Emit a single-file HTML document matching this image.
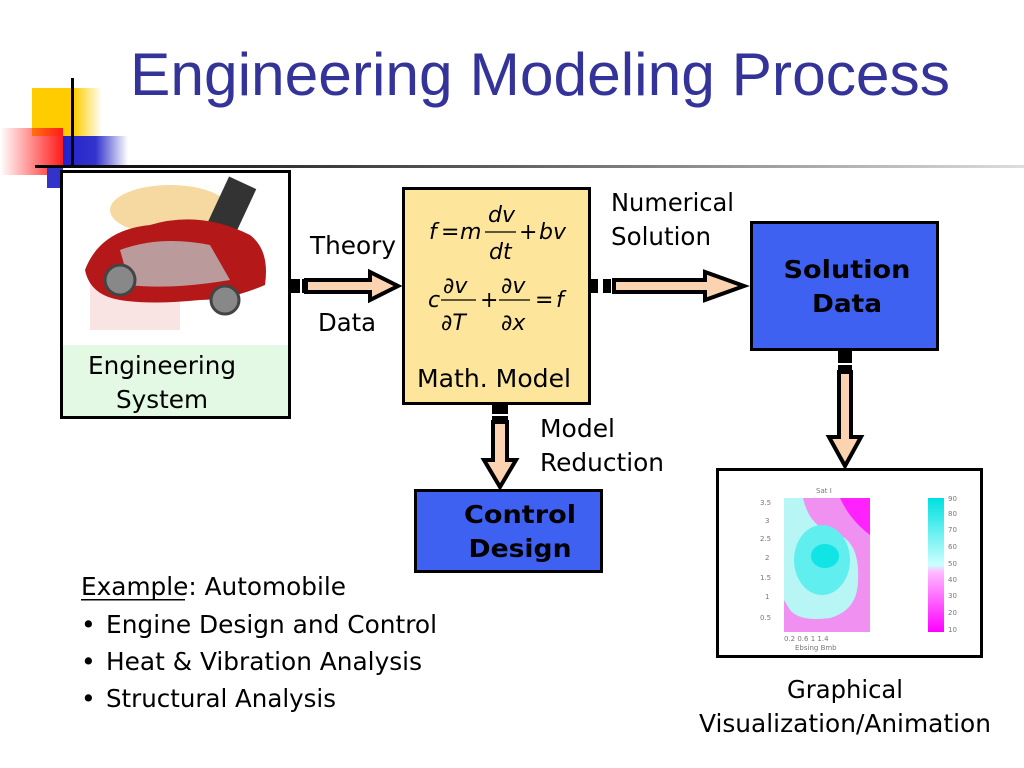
<!DOCTYPE html>
<html><head><meta charset="utf-8"><style>
html,body{margin:0;padding:0;background:#fff;}
svg{display:block;}
text{font-family:"DejaVu Sans","Liberation Sans",sans-serif;}
</style></head><body>
<svg width="1024" height="768" viewBox="0 0 1024 768" xmlns="http://www.w3.org/2000/svg">
<defs>
<linearGradient id="gy" x1="0" x2="1"><stop offset="0" stop-color="#ffcc00"/><stop offset="0.6" stop-color="#ffcc00"/><stop offset="1" stop-color="#ffcc00" stop-opacity="0"/></linearGradient>
<linearGradient id="gr" x1="1" x2="0"><stop offset="0" stop-color="#ff1a1a"/><stop offset="1" stop-color="#ff1a1a" stop-opacity="0"/></linearGradient>
<linearGradient id="gb" x1="0" x2="1"><stop offset="0" stop-color="#2222cc"/><stop offset="0.5" stop-color="#3333cc"/><stop offset="1" stop-color="#3333cc" stop-opacity="0"/></linearGradient>
<linearGradient id="gl" x1="0" x2="1"><stop offset="0" stop-color="#000"/><stop offset="0.5" stop-color="#666"/><stop offset="1" stop-color="#ddd"/></linearGradient>
<radialGradient id="cy" cx="0.45" cy="0.45" r="0.6"><stop offset="0" stop-color="#00e8e8"/><stop offset="0.5" stop-color="#7ff4f4"/><stop offset="0.75" stop-color="#ccf8f8"/><stop offset="1" stop-color="#ee88ee"/></radialGradient>
<linearGradient id="cb" x1="0" y1="0" x2="0" y2="1"><stop offset="0" stop-color="#00e0e0"/><stop offset="0.5" stop-color="#ccffff"/><stop offset="0.55" stop-color="#ffbbff"/><stop offset="1" stop-color="#ff00ff"/></linearGradient>
</defs>

<rect x="32" y="88" width="70" height="48" fill="url(#gy)"/>
<rect x="0" y="128" width="63" height="47" fill="url(#gr)"/>
<rect x="63" y="136" width="65" height="30" fill="url(#gb)"/>
<rect x="47" y="168" width="16" height="20" fill="#3333cc"/>
<rect x="71" y="78" width="3" height="88" fill="#000"/>
<rect x="35" y="165" width="989" height="3" fill="url(#gl)"/>

<text x="130" y="95" font-size="60" fill="#333399" textLength="820" lengthAdjust="spacingAndGlyphs" style="font-family:'Liberation Sans',sans-serif">Engineering Modeling Process</text>

<rect x="61.5" y="171.5" width="228" height="246" fill="#fff" stroke="#000" stroke-width="3"/>
<rect x="63" y="345" width="225" height="71" fill="#e3f9e3"/>
<ellipse cx="170" cy="210" rx="60" ry="25" fill="#f0c060" opacity="0.6"/>
<rect x="215" y="180" width="30" height="60" fill="#333" transform="rotate(25 230 210)"/>
<rect x="90" y="280" width="90" height="50" fill="#f5d0d0" opacity="0.6"/>
<path d="M85 270 Q100 230 150 225 Q200 210 250 235 Q270 250 265 285 Q230 300 200 300 Q150 305 120 300 Q90 295 85 270Z" fill="#b51818"/>
<path d="M120 250 Q160 235 210 245 L230 280 Q170 290 130 285Z" fill="#bbb" opacity="0.8"/>
<circle cx="120" cy="280" r="15" fill="#888" stroke="#444" stroke-width="3"/>
<circle cx="225" cy="300" r="14" fill="#888" stroke="#444" stroke-width="3"/>
<text x="162" y="374" font-size="25" text-anchor="middle" textLength="148" lengthAdjust="spacingAndGlyphs">Engineering</text>
<text x="162" y="408" font-size="25" text-anchor="middle" textLength="92" lengthAdjust="spacingAndGlyphs">System</text>

<path d="M306 280 H370 V272 L398 286 L370 300 V292 H306 Z" fill="#fbd3b0" stroke="#000" stroke-width="4"/>
<rect x="290" y="279" width="10" height="14" fill="#000"/>
<rect x="302" y="279" width="5" height="14" fill="#000"/>
<text x="310" y="254" font-size="25" textLength="86" lengthAdjust="spacingAndGlyphs">Theory</text>
<text x="318" y="331" font-size="25" textLength="58" lengthAdjust="spacingAndGlyphs">Data</text>

<rect x="403.5" y="188.5" width="186" height="215" fill="#fde69c" stroke="#000" stroke-width="3"/>
<g font-style="italic" font-size="22" style="font-family:'Liberation Sans',sans-serif">
<text x="429" y="239">f</text><text x="441" y="239" font-style="normal">=</text><text x="460" y="239">m</text>
<text x="488" y="222">dv</text><line x1="485" y1="232" x2="516" y2="232" stroke="#000" stroke-width="1.2"/>
<text x="489" y="259">dt</text><text x="519" y="239" font-style="normal">+</text><text x="539" y="239">bv</text>
<text x="428" y="307">c</text><text x="443" y="293">∂v</text><line x1="441" y1="300" x2="476" y2="300" stroke="#000" stroke-width="1.2"/>
<text x="441" y="330">∂T</text><text x="480" y="307" font-style="normal">+</text>
<text x="501" y="293">∂v</text><line x1="499" y1="300" x2="530" y2="300" stroke="#000" stroke-width="1.2"/>
<text x="501" y="330">∂x</text><text x="535" y="307" font-style="normal">=</text><text x="556" y="307">f</text>
</g>
<text x="417" y="387" font-size="25" textLength="154" lengthAdjust="spacingAndGlyphs">Math. Model</text>

<path d="M614 280 H705 V272 L744 286 L705 300 V292 H614 Z" fill="#fbd3b0" stroke="#000" stroke-width="4"/>
<rect x="591" y="279" width="7" height="14" fill="#000"/>
<rect x="603" y="279" width="8" height="14" fill="#000"/>
<text x="611" y="211" font-size="25" textLength="123" lengthAdjust="spacingAndGlyphs">Numerical</text>
<text x="611" y="245" font-size="25" textLength="100" lengthAdjust="spacingAndGlyphs">Solution</text>

<rect x="751.5" y="222.5" width="186" height="127" fill="#3e61f2" stroke="#000" stroke-width="3"/>
<text x="847" y="278" font-size="25" font-weight="bold" text-anchor="middle" textLength="127" lengthAdjust="spacingAndGlyphs">Solution</text>
<text x="847" y="312" font-size="25" font-weight="bold" text-anchor="middle" textLength="70" lengthAdjust="spacingAndGlyphs">Data</text>

<path d="M839 372 V437 H829 L845 466 L861 437 H851 V372 Z" fill="#fbd3b0" stroke="#000" stroke-width="4"/>
<rect x="838" y="351" width="14" height="12" fill="#000"/>
<rect x="838" y="365" width="14" height="6" fill="#000"/>

<rect x="717.5" y="469.5" width="264" height="187" fill="#fff" stroke="#000" stroke-width="3"/>
<rect x="784" y="498" width="86" height="134" fill="#f090f0"/>
<path d="M784 498 H803 Q810 530 840 535 Q860 545 858 580 Q858 610 830 618 Q800 622 790 610 L784 600Z" fill="#b8f6f6"/>
<ellipse cx="822" cy="560" rx="28" ry="35" fill="#60eeee"/>
<ellipse cx="825" cy="556" rx="14" ry="12" fill="#10e4e4"/>
<path d="M840 498 H870 V535 Q850 520 840 498Z" fill="#ff22ff"/>
<rect x="928" y="498" width="16" height="134" fill="url(#cb)"/>
<g font-size="7" fill="#777">
<text x="760" y="505">3.5</text><text x="765" y="523">3</text><text x="760" y="541">2.5</text><text x="765" y="560">2</text><text x="760" y="580">1.5</text><text x="765" y="599">1</text><text x="760" y="620">0.5</text>
<text x="784" y="641">0.2 0.6  1  1.4</text><text x="795" y="650">Ebsing Bmb</text><text x="816" y="493">Sat I</text>
<text x="948" y="501">90</text><text x="948" y="516">80</text><text x="948" y="532">70</text><text x="948" y="549">60</text><text x="948" y="566">50</text><text x="948" y="582">40</text><text x="948" y="598">30</text><text x="948" y="615">20</text><text x="948" y="632">10</text>
</g>
<text x="845" y="698" font-size="25" text-anchor="middle" textLength="116" lengthAdjust="spacingAndGlyphs">Graphical</text>
<text x="845" y="732" font-size="25" text-anchor="middle" textLength="292" lengthAdjust="spacingAndGlyphs">Visualization/Animation</text>

<path d="M493 422 V460 H484 L500 487 L516 460 H507 V422 Z" fill="#fbd3b0" stroke="#000" stroke-width="4"/>
<rect x="492" y="404" width="16" height="10" fill="#000"/>
<rect x="492" y="416" width="16" height="6" fill="#000"/>
<text x="540" y="437" font-size="25" textLength="75" lengthAdjust="spacingAndGlyphs">Model</text>
<text x="540" y="471" font-size="25" textLength="124" lengthAdjust="spacingAndGlyphs">Reduction</text>

<rect x="415.5" y="490.5" width="186" height="81" fill="#3e61f2" stroke="#000" stroke-width="3"/>
<text x="520" y="523" font-size="25" font-weight="bold" text-anchor="middle" textLength="112" lengthAdjust="spacingAndGlyphs">Control</text>
<text x="520" y="557" font-size="25" font-weight="bold" text-anchor="middle" textLength="103" lengthAdjust="spacingAndGlyphs">Design</text>

<text x="81" y="595" font-size="25" textLength="265" lengthAdjust="spacingAndGlyphs">Example: Automobile</text>
<rect x="81" y="599" width="104" height="1.5" fill="#000"/>
<text x="81" y="633" font-size="25">•</text><text x="106" y="633" font-size="25" textLength="331" lengthAdjust="spacingAndGlyphs">Engine Design and Control</text>
<text x="81" y="670" font-size="25">•</text><text x="106" y="670" font-size="25" textLength="316" lengthAdjust="spacingAndGlyphs">Heat &amp; Vibration Analysis</text>
<text x="81" y="707" font-size="25">•</text><text x="106" y="707" font-size="25" textLength="230" lengthAdjust="spacingAndGlyphs">Structural Analysis</text>
</svg>
</body></html>
